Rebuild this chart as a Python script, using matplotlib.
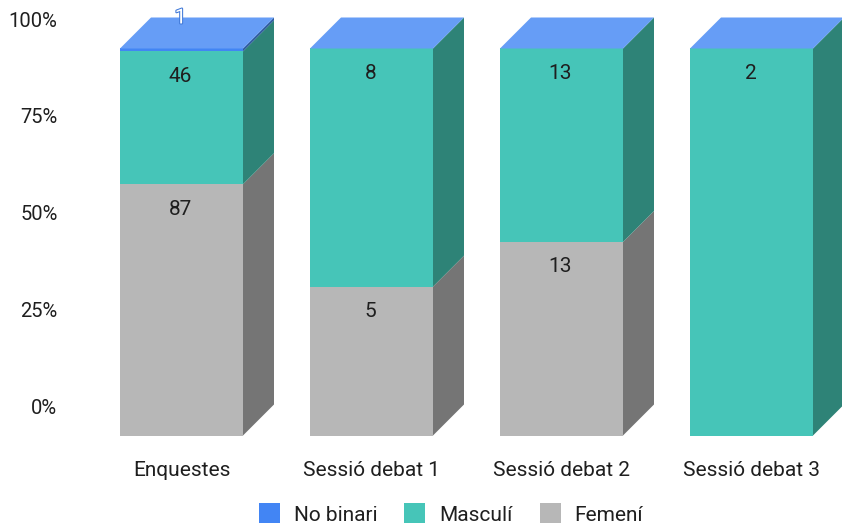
import matplotlib
matplotlib.use('Agg')
import matplotlib.patheffects as pe
import matplotlib.pyplot as plt
import numpy as np
from matplotlib.patches import Patch, Polygon

plt.rcParams['font.family'] = ['Roboto', 'DejaVu Sans']

categories = ['Enquestes', 'Sessió debat 1', 'Sessió debat 2', 'Sessió debat 3']
femeni = [87, 5, 13, 0]
masculi = [46, 8, 13, 2]
no_binari = [1, 0, 0, 0]
pct_ticks = [0, 25, 50, 75, 100]

series_names = ['Femení', 'Masculí', 'No binari']
front_colors = ['#b7b7b7', '#46c5b8', '#4285f4']
side_colors = ['#757575', '#2e8377', '#2a5a9c']
top_color = '#669df6'
text_color = '#1f1f1f'

W, H = 842, 523
bar_w = 123 / 190
dx = 31 / 190
dy = 31 / 3.87

fig = plt.figure(figsize=(W / 100, H / 100), dpi=100)
ax = fig.add_axes([120 / W, (H - 435.5) / H, (W - 120) / W, 418 / H])
ax.set_xlim(-bar_w / 2, (W - 181.5) / 190)
ax.set_ylim(0, 418 / 3.87)
for s in ax.spines.values():
    s.set_visible(False)

counts = np.array([femeni, masculi, no_binari], dtype=float)
pct = counts / counts.sum(axis=0) * 100

bottom = np.zeros(len(categories))
for k, name in enumerate(series_names):
    for i in range(len(categories)):
        v = pct[k, i]
        if v == 0:
            continue
        b = bottom[i]
        l, r = i - bar_w / 2, i + bar_w / 2
        ax.add_patch(Polygon([(l, b), (r, b), (r, b + v), (l, b + v)],
                             fc=front_colors[k], ec='none', clip_on=False))
        ax.add_patch(Polygon([(r, b), (r + dx, b + dy), (r + dx, b + v + dy), (r, b + v)],
                             fc=side_colors[k], ec='none', clip_on=False))
        if v < 5:
            # too thin for the label, it goes up on the top face
            ax.annotate(f'{int(counts[k, i])}', (i - 0.005, 100), xytext=(0, 22), textcoords='offset points',
                        ha='center', va='center', fontsize=15, color='white', zorder=5,
                        path_effects=[pe.withStroke(linewidth=1.5, foreground='#3f78d8')])
        else:
            ax.annotate(f'{int(counts[k, i])}', (i - 0.005, b + v), xytext=(0, -16.5), textcoords='offset points',
                        ha='center', va='center_baseline', fontsize=15, color=text_color)
    bottom += pct[k]

# top face
for i in range(len(categories)):
    l, r = i - bar_w / 2, i + bar_w / 2
    ax.add_patch(Polygon([(l, 100), (r, 100), (r + dx, 100 + dy), (l + dx, 100 + dy)],
                         fc=top_color, ec='none', clip_on=False, zorder=1.5))

# y labels sit on the back wall of the bars, nudged a little down
ax.set_yticks(np.array(pct_ticks) + dy - 0.4, [f'{p}%' for p in pct_ticks])
ax.set_xticks(range(len(categories)), categories)
ax.tick_params(axis='y', length=0, pad=45, labelsize=14.5, labelcolor=text_color)
ax.tick_params(axis='x', length=0, pad=18, labelsize=15, labelcolor=text_color)
for t in ax.get_yticklabels():
    t.set_va('center_baseline')

handles = [Patch(fc=front_colors[k], ec='none') for k in (2, 1, 0)]
labels = [series_names[k] for k in (2, 1, 0)]
fig.legend(handles, labels, loc='center', bbox_to_anchor=(451 / W, 1 - 514 / H), ncol=3, frameon=False,
           fontsize=15, labelcolor=text_color, handlelength=1.0, handleheight=1.1,
           handletextpad=0.67, columnspacing=1.3, borderpad=0)

fig.savefig('out.png', dpi=100)
